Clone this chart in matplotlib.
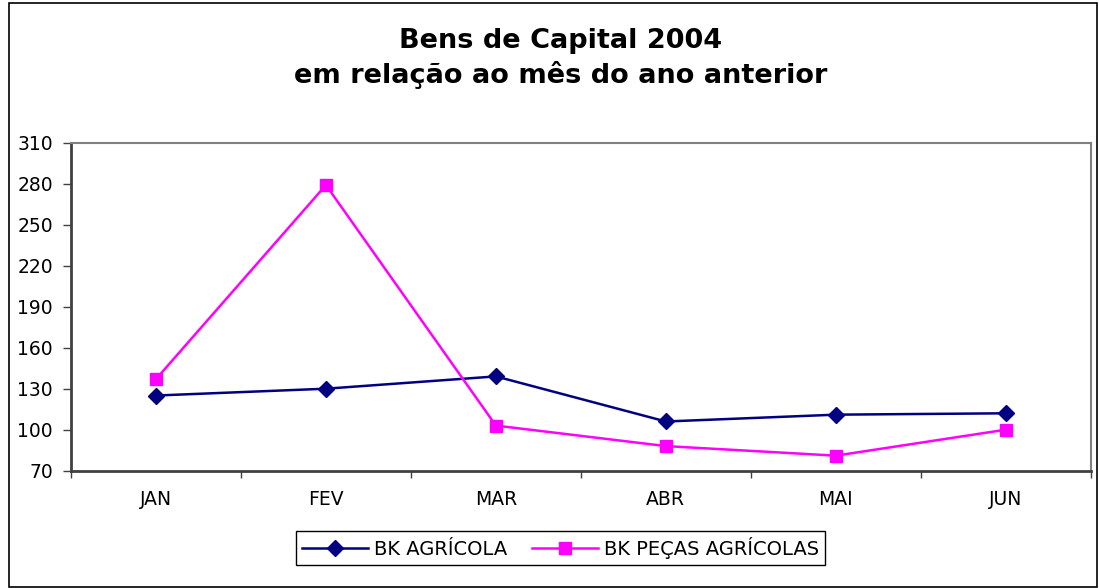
import matplotlib.pyplot as plt
from matplotlib.patches import Rectangle

# valores
meses = ['JAN', 'FEV', 'MAR', 'ABR', 'MAI', 'JUN']
bk_agricola = [125, 130, 139, 106, 111, 112]
bk_pecas = [137, 279, 103, 88, 81, 100]
yticks = [70, 100, 130, 160, 190, 220, 250, 280, 310]

# fonte larga para aproximar o texto esticado do original
plt.rcParams['font.family'] = ['DejaVu Sans']

fig = plt.figure(figsize=(10.99, 5.88), dpi=100)
ax = fig.add_axes([0.0646, 0.1995, 0.9279, 0.5578])

x = list(range(len(meses)))
ax.plot(x, bk_agricola, color='#000080', lw=1.8, marker='D', ms=8,
        label='BK AGRÍCOLA')
ax.plot(x, bk_pecas, color='#FF00FF', lw=1.8, marker='s', ms=8.5,
        label='BK PEÇAS AGRÍCOLAS')

ax.set_xlim(-0.5, len(meses) - 0.5)
ax.set_ylim(70, 310)
ax.set_yticks(yticks)
ax.tick_params(axis='y', direction='out', length=6, width=1, labelsize=13.5,
               pad=7, color='#404040')

# ticks nas divisas, rotulos no centro
ax.set_xticks([i - 0.5 for i in range(len(meses) + 1)])
ax.set_xticklabels([])
ax.set_xticks(x, minor=True)
ax.set_xticklabels(meses, minor=True)
ax.tick_params(axis='x', which='major', direction='out', length=5, width=1,
               color='#404040')
ax.tick_params(axis='x', which='minor', length=0, labelsize=13.5, pad=14)

for s in ['top', 'right']:
    ax.spines[s].set_color('#808080')
    ax.spines[s].set_linewidth(1.5)
for s in ['left', 'bottom']:
    ax.spines[s].set_color('#404040')
    ax.spines[s].set_linewidth(2)

fig.text(0.51, 0.930, 'Bens de Capital 2004', ha='center', va='center',
         fontsize=19.5, fontweight='bold')
fig.text(0.51, 0.872, 'em relação ao mês do ano anterior', ha='center',
         va='center', fontsize=19.5, fontweight='bold')

leg = fig.legend(loc='center', bbox_to_anchor=(0.51, 0.068), ncol=2,
                 fontsize=14, fancybox=False, edgecolor='black',
                 framealpha=1, handlelength=3.4, columnspacing=1.3,
                 borderpad=0.3, handletextpad=0.3)
leg.get_frame().set_linewidth(1)

# moldura externa do grafico
fig.patches.append(Rectangle((0.008, 0.002), 0.990, 0.993, transform=fig.transFigure,
                             fill=False, edgecolor='black', lw=1.2))

fig.savefig('out.png', dpi=100)
